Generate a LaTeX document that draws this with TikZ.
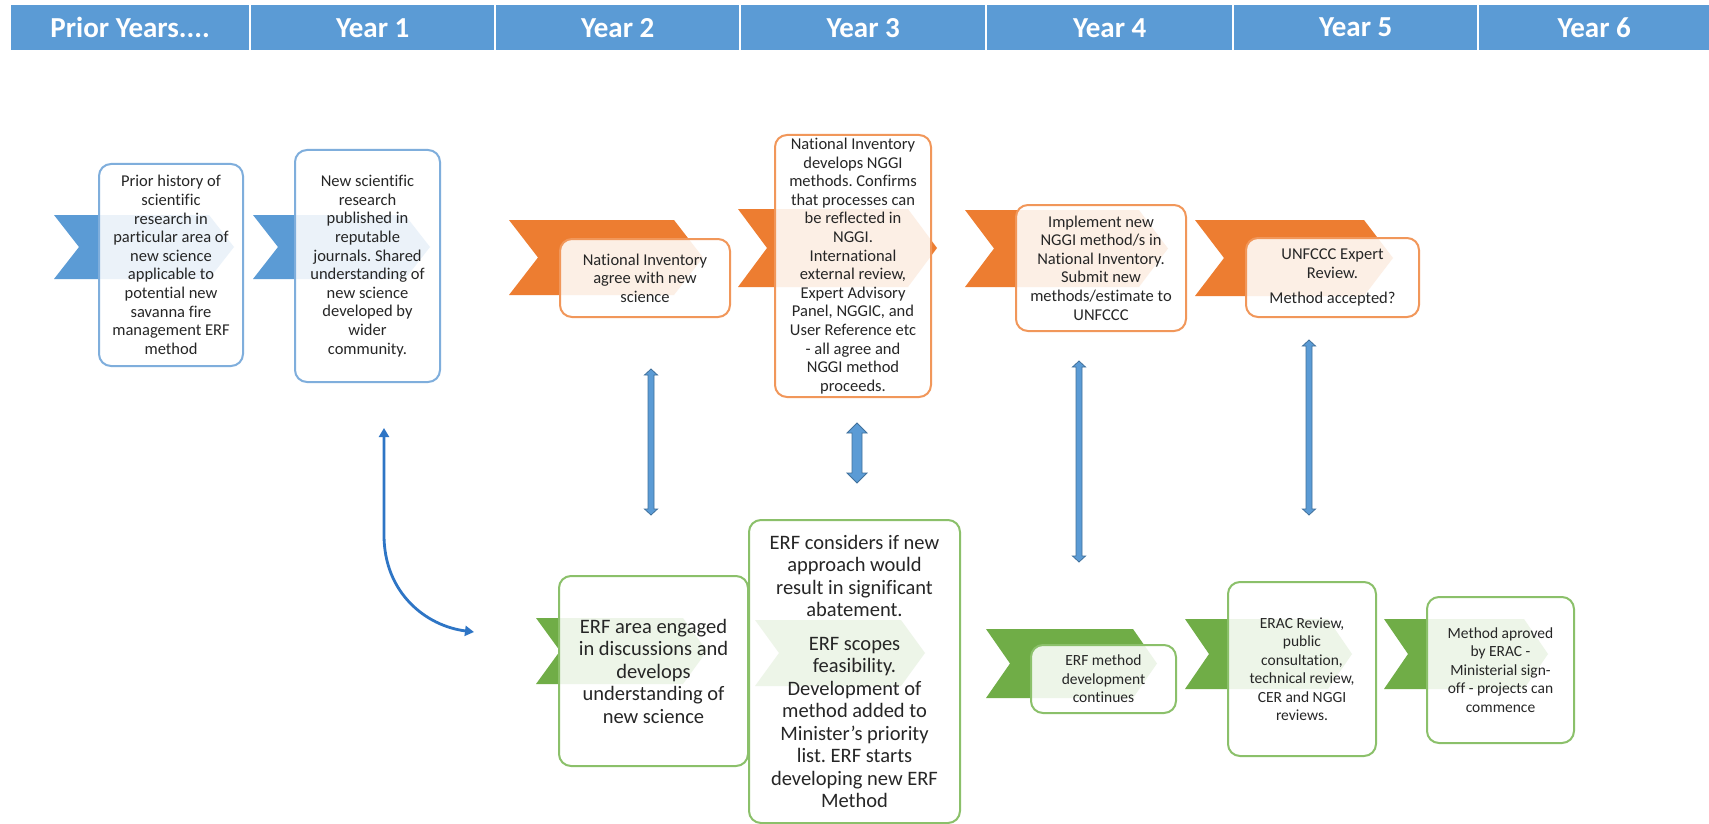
\documentclass[tikz,border=0pt]{standalone}
\usepackage{fontspec}
\setmainfont{Carlito}[Ligatures=NoCommon]
\usetikzlibrary{arrows.meta,calc}
\frenchspacing
\definecolor{hdr}{HTML}{5B9BD5}
\definecolor{bluec}{HTML}{5B9BD5}
\definecolor{blueb}{HTML}{7FAEDC}
\definecolor{orc}{HTML}{ED7D31}
\definecolor{orb}{HTML}{F1975A}
\definecolor{grc}{HTML}{70AD47}
\definecolor{grb}{HTML}{8BC06A}
\definecolor{txt}{HTML}{262626}
\definecolor{arrfill}{HTML}{5B9BD5}
\definecolor{arrline}{HTML}{41719C}
\definecolor{curv}{HTML}{2E75C5}
\newcommand{\fA}{\fontsize{16.5}{18.6}\selectfont}
\newcommand{\fB}{\fontsize{20.5}{22.5}\selectfont}
\newcommand{\fC}{\fontsize{15.5}{18.5}\selectfont}
% chevron: x0, x1, ytop, ybot, depth, colour
\newcommand{\chevron}[6]{%
  \fill[#6] (#1,#3) -- ({#2-#5},#3) -- (#2,{(#3+#4)/2}) -- ({#2-#5},#4)
    -- (#1,#4) -- ({#1+#5},{(#3+#4)/2}) -- cycle;}
% up-down arrow between two named coordinates: top, bottom, half shaft, half head, head length
\newcommand{\udarrow}[5]{%
  \path[udarr] let \p1=(#1), \p2=(#2) in
    (\x1,\y1) -- (\x1+#4pt,\y1-#5pt) -- (\x1+#3pt,\y1-#5pt) -- (\x1+#3pt,\y2+#5pt)
    -- (\x1+#4pt,\y2+#5pt) -- (\x1,\y2) -- (\x1-#4pt,\y2+#5pt) -- (\x1-#3pt,\y2+#5pt)
    -- (\x1-#3pt,\y1-#5pt) -- (\x1-#4pt,\y1-#5pt) -- cycle;}
\tikzset{
  hdrcell/.style={fill=hdr, text=white, font=\bfseries\fontsize{29}{31}\selectfont,
    inner sep=0pt, anchor=north west, minimum height=45},
  box/.style={rounded corners=12, fill=white, fill opacity=0.88, text opacity=1,
    line width=2, align=center, inner sep=2, anchor=north west, text=txt},
  bluebox/.style={box, draw=blueb, font=\fA},
  orbox/.style={box, draw=orb, font=\fA},
  grboxL/.style={box, draw=grb, font=\fB},
  grbox/.style={box, draw=grb, font=\fC},
  udarr/.style={fill=arrfill, draw=arrline, line width=0.8},
  curvarrow/.style={draw=curv, line width=2.8,
    {Triangle[length=9,width=10]}-{Triangle[length=9,width=10]}}
}
\begin{document}
\begin{tikzpicture}[x=1pt,y=-1pt]
\useasboundingbox (0,0) rectangle (1709,824);
\fill[white] (0,0) rectangle (1709,824);

% header
\node[hdrcell, minimum width=238] (h0) at (11,5) {Prior Years....};
\node[hdrcell, minimum width=243] (h1) at (251,5) {Year 1};
\node[hdrcell, minimum width=243] (h2) at (496,5) {Year 2};
\node[hdrcell, minimum width=244] (h3) at (741,5) {Year 3};
\node[hdrcell, minimum width=245] (h4) at (987,5) {Year 4};
\node[hdrcell, minimum width=243] (h5) at (1234,5) {Year 5};
\node[hdrcell, minimum width=230] (h6) at (1479,5) {Year 6};

% chevrons
\chevron{54}{234}{215}{279}{25}{bluec}
\chevron{253}{430}{215}{279}{25}{bluec}
\chevron{509}{703}{220}{295}{29}{orc}
\chevron{738}{937}{209}{287}{29}{orc}
\chevron{965}{1168}{210}{287}{29}{orc}
\chevron{1195}{1393}{220}{296}{29}{orc}
\chevron{536}{707}{618}{684}{24}{grc}
\chevron{755}{925}{620}{686}{24}{grc}
\chevron{986}{1157}{629}{698}{24}{grc}
\chevron{1185}{1352}{619}{689}{24}{grc}
\chevron{1384}{1548}{619}{689}{24}{grc}

% boxes
\node[bluebox, minimum width=144, minimum height=202] (b1) at (98,163)
  {Prior history of\\scientific\\research in\\particular area of\\new science\\applicable to\\potential new\\savanna fire\\management ERF\\method};
\node[bluebox, minimum width=145, minimum height=232] (b2) at (294,149)
  {New scientific\\research\\published in\\reputable\\journals. Shared\\understanding of\\new science\\developed by\\wider\\community.};
\node[orbox, minimum width=170, minimum height=78] (b3) at (559,238)
  {National Inventory\\agree with new\\science};
\node[orbox, minimum width=156, minimum height=262] (b4) at (774,134)
  {National Inventory\\develops NGGI\\methods. Confirms\\that processes can\\be reflected in\\NGGI.\\International\\external review,\\Expert Advisory\\Panel, NGGIC, and\\User Reference etc\\- all agree and\\NGGI method\\proceeds.};
\node[orbox, minimum width=170, minimum height=126] (b5) at (1015,204)
  {Implement new\\NGGI method/s in\\National Inventory.\\Submit new\\methods/estimate to\\UNFCCC};
\node[orbox, minimum width=173, minimum height=79] (b6) at (1245,237)
  {UNFCCC Expert\\Review.\\[7pt]Method accepted?};
\node[grboxL, minimum width=189, minimum height=190] (b7) at (558,575)
  {ERF area engaged\\in discussions and\\develops\\understanding of\\new science};
\node[grboxL, minimum width=211, minimum height=303] (b8) at (748,519)
  {ERF considers if new\\approach would\\result in significant\\abatement.\\[11pt]ERF scopes\\feasibility.\\Development of\\method added to\\Minister’s priority\\list. ERF starts\\developing new ERF\\Method};
\node[grbox, minimum width=145, minimum height=68] (b9) at (1030,644)
  {ERF method\\development\\continues};
\node[grbox, minimum width=148, minimum height=174] (b10) at (1227,581)
  {ERAC Review,\\public\\consultation,\\technical review,\\CER and NGGI\\reviews.};
\node[grbox, minimum width=147, minimum height=146] (b11) at (1426,596)
  {Method aproved\\by ERAC -\\Ministerial sign-\\off - projects can\\commence};

% up-down arrows
\coordinate (aAt) at (651,369); \coordinate (aAb) at (651,515);
\coordinate (aBt) at (857,423); \coordinate (aBb) at (857,483);
\coordinate (aCt) at (1079,361); \coordinate (aCb) at (1079,562);
\coordinate (aDt) at (1309,340); \coordinate (aDb) at (1309,515);
\udarrow{aAt}{aAb}{3}{6.5}{6}
\udarrow{aBt}{aBb}{5}{10}{10}
\udarrow{aCt}{aCb}{3}{6.5}{6}
\udarrow{aDt}{aDb}{3}{6.5}{6}

% curved arrow
\coordinate (cs) at (384,428);
\coordinate (ce) at (474,632);
\draw[curvarrow] (cs) -- ++(0,107) .. controls +(0,58) and +(-48,-6) .. (ce);
\end{tikzpicture}
\end{document}
